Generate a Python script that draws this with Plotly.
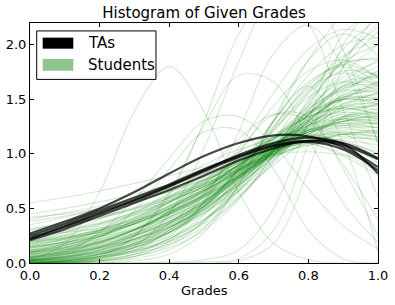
import plotly.graph_objects as go

grade_points = [0.0, 0.1, 0.2, 0.3, 0.4, 0.5, 0.6, 0.7, 0.8, 0.9, 1.0]

ta_curves = [
    [0.27, 0.38, 0.50, 0.65, 0.82, 0.98, 1.10, 1.17, 1.16, 1.06, 0.88],
    [0.25, 0.36, 0.48, 0.60, 0.72, 0.86, 0.98, 1.08, 1.12, 1.08, 0.95],
    [0.22, 0.33, 0.45, 0.57, 0.70, 0.84, 0.97, 1.07, 1.11, 1.04, 0.85],
    [0.21, 0.31, 0.43, 0.55, 0.67, 0.80, 0.94, 1.05, 1.12, 1.10, 0.96],
    [0.23, 0.34, 0.46, 0.58, 0.71, 0.85, 0.99, 1.10, 1.15, 1.09, 0.82],
]

student_curves = [
    [0.30, 0.38, 0.47, 0.57, 0.68, 0.80, 0.92, 1.03, 1.10, 1.12, 1.08],
    [0.15, 0.22, 0.32, 0.44, 0.58, 0.74, 0.90, 1.05, 1.15, 1.18, 1.12],
    [0.05, 0.10, 0.18, 0.30, 0.46, 0.65, 0.86, 1.06, 1.22, 1.30, 1.28],
    [0.40, 0.46, 0.52, 0.58, 0.66, 0.76, 0.88, 1.00, 1.08, 1.10, 1.02],
    [0.20, 0.26, 0.35, 0.46, 0.60, 0.75, 0.92, 1.08, 1.20, 1.26, 1.24],
    [0.10, 0.15, 0.22, 0.32, 0.45, 0.60, 0.78, 0.98, 1.18, 1.33, 1.40],
    [0.25, 0.30, 0.37, 0.46, 0.57, 0.70, 0.85, 1.00, 1.12, 1.18, 1.15],
    [0.08, 0.14, 0.24, 0.36, 0.50, 0.66, 0.84, 1.02, 1.16, 1.24, 1.24],
    [0.35, 0.42, 0.50, 0.59, 0.70, 0.82, 0.95, 1.06, 1.12, 1.10, 1.00],
    [0.12, 0.18, 0.27, 0.38, 0.52, 0.67, 0.84, 1.02, 1.18, 1.30, 1.36],
    [0.03, 0.06, 0.12, 0.22, 0.36, 0.54, 0.76, 1.00, 1.22, 1.38, 1.45],
    [0.18, 0.25, 0.34, 0.44, 0.56, 0.70, 0.86, 1.02, 1.15, 1.22, 1.20],
    [0.28, 0.34, 0.42, 0.51, 0.62, 0.76, 0.92, 1.08, 1.20, 1.24, 1.18],
    [0.06, 0.11, 0.19, 0.30, 0.44, 0.61, 0.80, 1.00, 1.18, 1.32, 1.38],
    [0.22, 0.28, 0.36, 0.47, 0.60, 0.76, 0.94, 1.10, 1.22, 1.26, 1.20],
    [0.14, 0.19, 0.26, 0.36, 0.49, 0.65, 0.84, 1.04, 1.22, 1.34, 1.38],
    [0.45, 0.50, 0.56, 0.63, 0.72, 0.82, 0.94, 1.04, 1.10, 1.08, 0.98],
    [0.09, 0.16, 0.26, 0.38, 0.52, 0.67, 0.82, 0.97, 1.10, 1.18, 1.20],
    [0.32, 0.36, 0.42, 0.50, 0.60, 0.72, 0.86, 1.00, 1.12, 1.18, 1.16],
    [0.02, 0.05, 0.10, 0.18, 0.30, 0.46, 0.66, 0.90, 1.14, 1.34, 1.46],
    [0.17, 0.21, 0.28, 0.38, 0.51, 0.68, 0.88, 1.08, 1.24, 1.32, 1.30],
    [0.26, 0.33, 0.41, 0.50, 0.61, 0.73, 0.86, 0.98, 1.08, 1.14, 1.14],
    [0.11, 0.16, 0.24, 0.35, 0.49, 0.66, 0.85, 1.04, 1.20, 1.30, 1.32],
    [0.04, 0.08, 0.15, 0.25, 0.40, 0.58, 0.79, 1.00, 1.18, 1.30, 1.34],
    [0.38, 0.43, 0.49, 0.56, 0.65, 0.76, 0.89, 1.02, 1.12, 1.16, 1.12],
    [0.20, 0.24, 0.30, 0.40, 0.53, 0.70, 0.90, 1.10, 1.26, 1.34, 1.32],
    [0.07, 0.12, 0.20, 0.31, 0.45, 0.62, 0.82, 1.02, 1.20, 1.34, 1.42],
    [0.16, 0.22, 0.30, 0.41, 0.55, 0.71, 0.89, 1.06, 1.20, 1.28, 1.28],
    [0.55, 0.60, 0.66, 0.73, 0.80, 0.88, 0.95, 1.00, 1.02, 0.99, 0.92],
    [0.13, 0.20, 0.30, 0.42, 0.56, 0.70, 0.84, 0.98, 1.10, 1.18, 1.22],
    [0.24, 0.29, 0.36, 0.45, 0.57, 0.72, 0.90, 1.08, 1.22, 1.28, 1.24],
    [0.03, 0.07, 0.14, 0.24, 0.38, 0.56, 0.78, 1.02, 1.24, 1.42, 1.52],
    [0.10, 0.14, 0.21, 0.31, 0.45, 0.63, 0.85, 1.08, 1.28, 1.40, 1.44],
    [0.30, 0.35, 0.41, 0.49, 0.59, 0.72, 0.87, 1.02, 1.14, 1.20, 1.18],
    [0.19, 0.23, 0.29, 0.38, 0.50, 0.66, 0.86, 1.08, 1.28, 1.42, 1.48],
    [0.05, 0.09, 0.16, 0.27, 0.42, 0.60, 0.80, 1.00, 1.16, 1.26, 1.28],
    [0.42, 0.45, 0.50, 0.57, 0.66, 0.78, 0.92, 1.06, 1.16, 1.20, 1.16],
    [0.15, 0.18, 0.24, 0.33, 0.46, 0.63, 0.84, 1.06, 1.26, 1.40, 1.46],
    [0.10, 0.18, 0.30, 0.46, 0.64, 0.84, 1.00, 1.10, 1.10, 1.00, 0.84],
    [0.05, 0.12, 0.24, 0.40, 0.60, 0.82, 1.02, 1.15, 1.18, 1.10, 0.92],
    [0.20, 0.28, 0.40, 0.55, 0.72, 0.90, 1.04, 1.12, 1.10, 0.98, 0.80],
    [0.02, 0.06, 0.14, 0.28, 0.48, 0.72, 0.96, 1.14, 1.22, 1.18, 1.04],
    [0.08, 0.14, 0.24, 0.38, 0.56, 0.76, 0.96, 1.10, 1.16, 1.12, 1.00],
    [0.02, 0.04, 0.08, 0.16, 0.30, 0.52, 0.84, 1.24, 1.62, 1.84, 1.86],
    [0.00, 0.02, 0.06, 0.14, 0.28, 0.50, 0.82, 1.20, 1.56, 1.76, 1.72],
    [0.05, 0.08, 0.13, 0.21, 0.33, 0.50, 0.74, 1.04, 1.40, 1.74, 2.00],
    [0.01, 0.03, 0.08, 0.18, 0.36, 0.64, 1.02, 1.44, 1.76, 1.86, 1.70],
    [0.00, 0.01, 0.03, 0.08, 0.18, 0.38, 0.70, 1.12, 1.56, 1.90, 2.04],
    [0.03, 0.06, 0.11, 0.20, 0.34, 0.55, 0.85, 1.22, 1.58, 1.82, 1.88],
    [0.00, 0.02, 0.05, 0.12, 0.26, 0.50, 0.86, 1.30, 1.72, 2.00, 2.06],
    [0.02, 0.03, 0.06, 0.12, 0.22, 0.40, 0.68, 1.04, 1.46, 1.86, 2.20],
    [0.00, 0.01, 0.04, 0.12, 0.30, 0.62, 1.06, 1.56, 1.96, 2.14, 2.06],
    [0.06, 0.09, 0.14, 0.22, 0.35, 0.54, 0.80, 1.12, 1.44, 1.66, 1.70],
    [0.00, 0.00, 0.02, 0.06, 0.16, 0.38, 0.76, 1.30, 1.86, 2.26, 2.36],
    [0.04, 0.06, 0.10, 0.17, 0.28, 0.45, 0.70, 1.02, 1.36, 1.60, 1.64],
    [0.00, 0.00, 0.02, 0.06, 0.20, 0.56, 1.20, 1.92, 2.18, 1.80, 1.10],
    [0.00, 0.00, 0.01, 0.04, 0.12, 0.32, 0.72, 1.32, 1.86, 2.10, 1.90],
    [0.00, 0.01, 0.06, 0.24, 0.65, 1.26, 1.72, 1.66, 1.14, 0.55, 0.19],
    [0.03, 0.18, 0.65, 1.39, 1.80, 1.39, 0.65, 0.18, 0.03, 0.00, 0.00],
    [0.03, 0.10, 0.28, 0.58, 0.96, 1.30, 1.34, 1.08, 0.68, 0.34, 0.13],
    [0.00, 0.02, 0.08, 0.25, 0.62, 1.30, 2.10, 2.50, 2.20, 1.40, 0.60],
    [0.00, 0.01, 0.04, 0.15, 0.45, 1.05, 1.85, 2.45, 2.50, 1.95, 1.10],
    [0.00, 0.00, 0.00, 0.02, 0.08, 0.28, 0.72, 1.30, 1.62, 1.10, 0.10],
    [0.00, 0.00, 0.02, 0.08, 0.24, 0.56, 1.00, 1.36, 1.34, 0.86, 0.25],
    [0.02, 0.05, 0.12, 0.26, 0.48, 0.80, 1.14, 1.36, 1.30, 0.90, 0.40],
    [0.00, 0.00, 0.00, 0.00, 0.00, 0.01, 0.04, 0.30, 1.10, 2.00, 2.40],
    [0.00, 0.00, 0.00, 0.00, 0.01, 0.03, 0.12, 0.50, 1.30, 2.10, 2.30],
    [0.00, 0.00, 0.00, 0.00, 0.00, 0.00, 0.02, 0.18, 0.85, 1.80, 2.30],
    [0.02, 0.08, 0.22, 0.48, 0.86, 1.20, 1.22, 0.86, 0.30, 0.04, 0.00],
    [0.10, 0.13, 0.18, 0.26, 0.37, 0.52, 0.72, 0.96, 1.22, 1.44, 1.56],
    [0.22, 0.25, 0.30, 0.37, 0.47, 0.61, 0.80, 1.02, 1.26, 1.46, 1.56],
    [0.06, 0.09, 0.14, 0.22, 0.34, 0.50, 0.72, 0.98, 1.26, 1.50, 1.62],
    [0.16, 0.19, 0.24, 0.31, 0.42, 0.57, 0.77, 1.02, 1.30, 1.54, 1.66],
    [0.04, 0.07, 0.12, 0.20, 0.32, 0.49, 0.71, 0.99, 1.30, 1.58, 1.74],
    [0.12, 0.15, 0.20, 0.28, 0.40, 0.56, 0.78, 1.04, 1.32, 1.52, 1.58],
    [0.26, 0.28, 0.32, 0.39, 0.48, 0.62, 0.80, 1.04, 1.30, 1.52, 1.64],
    [0.08, 0.10, 0.15, 0.22, 0.33, 0.48, 0.68, 0.94, 1.24, 1.50, 1.66],
    [0.18, 0.22, 0.28, 0.36, 0.47, 0.62, 0.82, 1.06, 1.32, 1.52, 1.60],
    [0.02, 0.04, 0.08, 0.14, 0.24, 0.40, 0.62, 0.92, 1.26, 1.56, 1.76],
    [0.14, 0.17, 0.22, 0.30, 0.42, 0.58, 0.80, 1.08, 1.38, 1.62, 1.72],
    [0.20, 0.23, 0.28, 0.35, 0.45, 0.60, 0.80, 1.06, 1.36, 1.64, 1.80],
    [0.07, 0.10, 0.16, 0.25, 0.38, 0.55, 0.78, 1.06, 1.36, 1.60, 1.70],
    [0.11, 0.14, 0.19, 0.27, 0.38, 0.54, 0.76, 1.04, 1.36, 1.66, 1.86],
    [0.03, 0.05, 0.09, 0.16, 0.28, 0.46, 0.72, 1.04, 1.40, 1.70, 1.84],
    [0.09, 0.12, 0.17, 0.25, 0.36, 0.52, 0.74, 1.02, 1.34, 1.62, 1.76],
    [0.10, 0.16, 0.25, 0.37, 0.52, 0.70, 0.90, 1.10, 1.26, 1.32, 1.26],
    [0.05, 0.10, 0.18, 0.30, 0.46, 0.66, 0.90, 1.14, 1.34, 1.42, 1.36],
    [0.14, 0.20, 0.29, 0.40, 0.55, 0.73, 0.94, 1.16, 1.34, 1.42, 1.36],
    [0.02, 0.05, 0.11, 0.21, 0.36, 0.56, 0.82, 1.10, 1.36, 1.50, 1.46],
    [0.08, 0.12, 0.19, 0.30, 0.45, 0.64, 0.88, 1.14, 1.38, 1.52, 1.50],
    [0.12, 0.17, 0.25, 0.36, 0.50, 0.68, 0.90, 1.14, 1.34, 1.44, 1.40],
    [0.04, 0.08, 0.15, 0.26, 0.42, 0.62, 0.88, 1.16, 1.42, 1.58, 1.56],
    [0.18, 0.23, 0.31, 0.42, 0.56, 0.74, 0.94, 1.14, 1.30, 1.38, 1.34],
    [0.06, 0.11, 0.19, 0.31, 0.47, 0.67, 0.91, 1.16, 1.38, 1.50, 1.48],
    [0.01, 0.03, 0.07, 0.15, 0.28, 0.48, 0.76, 1.08, 1.40, 1.62, 1.66],
    [0.15, 0.19, 0.26, 0.36, 0.50, 0.68, 0.90, 1.14, 1.36, 1.50, 1.52],
    [0.09, 0.13, 0.20, 0.30, 0.44, 0.62, 0.84, 1.08, 1.30, 1.46, 1.50],
    [0.01, 0.03, 0.08, 0.17, 0.32, 0.52, 0.78, 1.04, 1.26, 1.36, 1.32],
    [0.03, 0.06, 0.12, 0.22, 0.37, 0.57, 0.80, 1.02, 1.20, 1.30, 1.30],
    [0.00, 0.02, 0.06, 0.14, 0.28, 0.48, 0.74, 1.02, 1.28, 1.44, 1.46],
    [0.05, 0.08, 0.14, 0.24, 0.38, 0.56, 0.78, 1.00, 1.20, 1.32, 1.34],
    [0.02, 0.04, 0.09, 0.18, 0.32, 0.52, 0.78, 1.06, 1.32, 1.50, 1.54],
    [0.01, 0.02, 0.05, 0.11, 0.22, 0.40, 0.66, 0.98, 1.30, 1.54, 1.62],
    [0.00, 0.01, 0.03, 0.08, 0.17, 0.33, 0.60, 0.98, 1.44, 1.88, 2.16],
    [0.02, 0.03, 0.06, 0.11, 0.20, 0.36, 0.60, 0.94, 1.36, 1.80, 2.12],
    [0.00, 0.01, 0.02, 0.06, 0.14, 0.30, 0.58, 1.00, 1.50, 1.96, 2.24],
    [0.01, 0.02, 0.05, 0.10, 0.20, 0.38, 0.66, 1.04, 1.48, 1.84, 2.00],
    [0.00, 0.01, 0.04, 0.10, 0.22, 0.44, 0.80, 1.24, 1.64, 1.82, 1.70],
    [0.02, 0.04, 0.08, 0.16, 0.30, 0.52, 0.86, 1.26, 1.60, 1.74, 1.62],
    [0.01, 0.02, 0.06, 0.14, 0.28, 0.52, 0.88, 1.30, 1.66, 1.80, 1.64],
    [0.03, 0.05, 0.10, 0.18, 0.32, 0.54, 0.86, 1.22, 1.52, 1.66, 1.58],
]

x_ticks = [0.0, 0.2, 0.4, 0.6, 0.8, 1.0]
y_ticks = [0.0, 0.5, 1.0, 1.5, 2.0]
legend_labels = ["TAs", "Students"]

FONT = "DejaVu Sans"
fig = go.Figure()

for ys in student_curves:
    fig.add_trace(go.Scatter(
        x=grade_points, y=ys, mode="lines",
        line=dict(color="rgba(0,128,0,0.17)", width=1.1, shape="spline"),
        showlegend=False, hoverinfo="skip"))

for ys in ta_curves:
    fig.add_trace(go.Scatter(
        x=grade_points, y=ys, mode="lines",
        line=dict(color="rgba(0,0,0,0.72)", width=2.2, shape="spline"),
        showlegend=False, hoverinfo="skip"))

axis_common = dict(
    showline=True, linecolor="black", linewidth=1, mirror="ticks",
    ticks="inside", ticklen=4, tickcolor="black", tickwidth=1,
    showgrid=False, zeroline=False, tickformat=".1f", automargin=False,
    tickfont=dict(family=FONT, size=13, color="black"),
)

fig.update_layout(
    width=395, height=305,
    margin=dict(l=30, r=17, t=23, b=42),
    paper_bgcolor="white", plot_bgcolor="white",
    showlegend=False,
    title=dict(text="Histogram of Given Grades", x=0.5, xref="paper",
               y=1 - 13 / 305, yanchor="middle", xanchor="center",
               font=dict(family=FONT, size=15, color="black")),
    xaxis=dict(range=[0, 1], tickvals=x_ticks, **axis_common),
    yaxis=dict(range=[0, 2.2], tickvals=y_ticks, **axis_common),
)

fig.add_annotation(text="Grades", xref="paper", yref="paper", x=0.5, y=-0.1125,
                   showarrow=False, xanchor="center", yanchor="middle",
                   font=dict(family=FONT, size=13, color="black"))

# legend drawn as a matplotlib-style box
fig.add_shape(type="rect", xref="paper", yref="paper", x0=0.0193, x1=0.362,
              y0=0.765, y1=0.967, line=dict(color="black", width=1),
              fillcolor="white", layer="above")
fig.add_shape(type="rect", xref="paper", yref="paper", x0=0.0365, x1=0.1244,
              y0=0.893, y1=0.939, line=dict(width=0), fillcolor="black", layer="above")
fig.add_shape(type="rect", xref="paper", yref="paper", x0=0.0365, x1=0.1244,
              y0=0.801, y1=0.85, line=dict(width=0), fillcolor="rgba(0,128,0,0.45)",
              layer="above")
for label, yy in zip(legend_labels, [0.917, 0.827]):
    fig.add_annotation(text=label, xref="paper", yref="paper", x=0.161, y=yy,
                       showarrow=False, xanchor="left", yanchor="middle",
                       font=dict(family=FONT, size=15, color="black"))

# remove the browser's default 8px page margin so the figure sits at the corner
fig.write_html("out.html",
               config={"displayModeBar": False, "staticPlot": True},
               post_script="document.body.style.margin='0';"
                           "document.body.style.overflow='hidden';")
